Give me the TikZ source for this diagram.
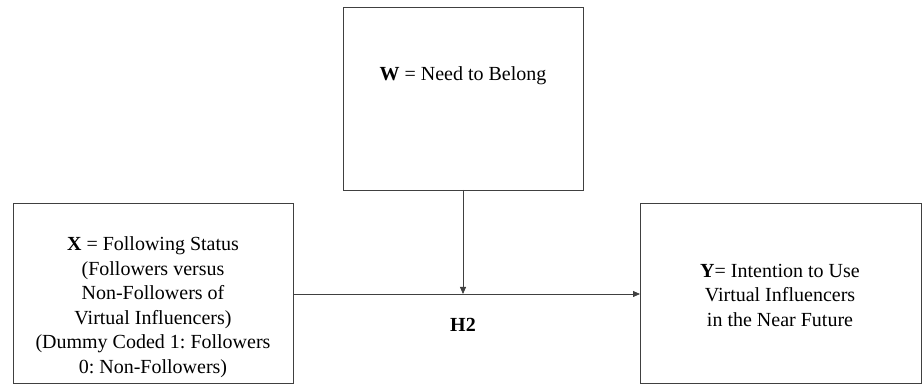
\documentclass[tikz,border=0pt]{standalone}
\usepackage{fontspec}
\setmainfont{Liberation Serif}
\usetikzlibrary{arrows.meta}
\begin{document}
\frenchspacing
\begin{tikzpicture}[x=1pt,y=-1pt,
  boxstyle/.style={draw=black!75,line width=0.9pt,fill=white},
  txt/.style={font=\fontsize{20}{24.5}\selectfont,align=center,inner sep=0pt},
  conn/.style={draw=black!75,line width=0.8pt,-{Triangle[length=7pt,width=6pt]}}]
\useasboundingbox (0,0) rectangle (922,387);
\draw[boxstyle] (13,203) rectangle (293,383);
\draw[boxstyle] (343,7) rectangle (583,190);
\draw[boxstyle] (640,203) rectangle (921,383);
\node[txt] (x) at (153,307) {\textbf{X} = Following Status\\(Followers versus\\Non-Followers of\\Virtual Influencers)\\(Dummy Coded 1: Followers\\0: Non-Followers)};
\node[txt] (w) at (463,76) {\textbf{W} = Need to Belong};
\node[txt] (y) at (780,295) {\textbf{Y}= Intention to Use\\Virtual Influencers\\in the Near Future};
\node[txt,font=\fontsize{20}{24.5}\selectfont\bfseries] (h) at (463,325) {H2};
\coordinate (xr) at (293,294);
\coordinate (yl) at (640,294);
\coordinate (wb) at (463,190);
\coordinate (m) at (463,294);
\draw[conn] (xr) -- (yl);
\draw[conn] (wb) -- (m);
\end{tikzpicture}
\end{document}
